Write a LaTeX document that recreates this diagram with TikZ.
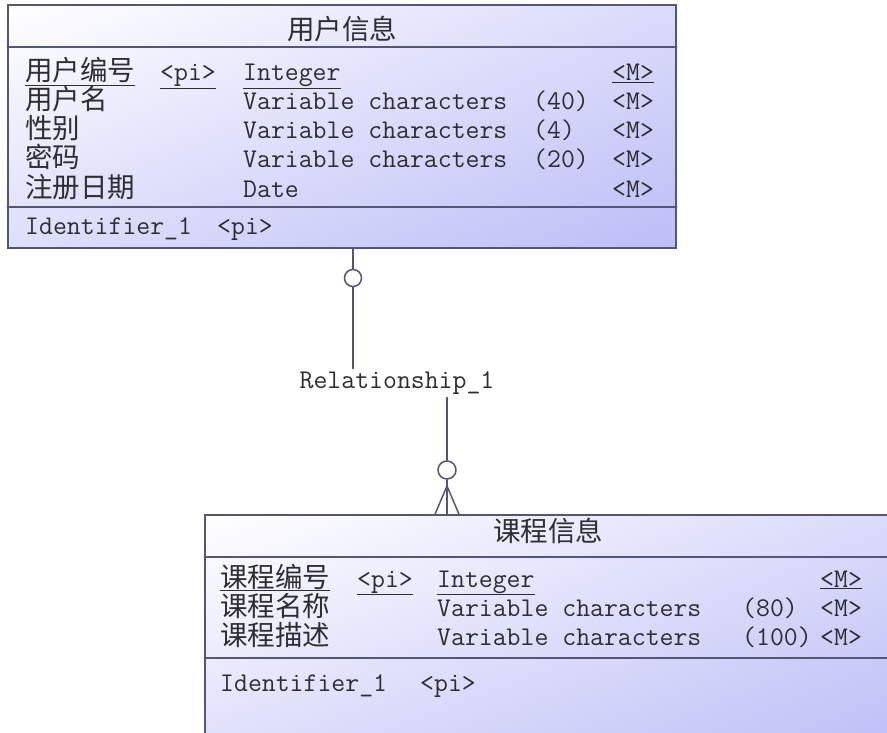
\documentclass[tikz,border=0pt]{standalone}
\usepackage{fontspec}
\newfontfamily\cjk{Noto Sans CJK SC}
\usetikzlibrary{calc,positioning,shadings}

\definecolor{erline}{RGB}{85,85,120}
\definecolor{erfill}{RGB}{188,190,246}
\definecolor{ertext}{RGB}{45,45,50}

\begin{document}
\begin{tikzpicture}[x=1pt,y=-1pt,line cap=round]

      \clip (0,0) rectangle (887,733);
      \fill[white] (0,0) rectangle (887,733);

      \tikzstyle{myentity}=[draw=erline, line width=1.5pt, rectangle, inner sep=0pt,
        shade, upper left=white, upper right=erfill!55, lower left=erfill!50, lower right=erfill];
      \tikzstyle{myline}=[draw=erline, line width=1.5pt];
      \tikzstyle{mycircle}=[circle, draw=erline, line width=1.5pt, fill=white, inner sep=0pt, minimum size=17pt];
      \tikzstyle{mycjk}=[inner sep=0pt, anchor=base west, text=ertext, font=\cjk\fontsize{27.5}{27.5}\selectfont];
      \tikzstyle{mymono}=[inner sep=0pt, anchor=base west, text=ertext, font=\ttfamily\fontsize{27}{27}\selectfont];

      % entity boxes
      \node[myentity, minimum width=668pt, minimum height=243pt] (user) at (342,126.5) {};
      \node[myentity, minimum width=687pt, minimum height=245pt] (course) at (548.5,637.5) {};

      \coordinate (UA) at (0,47);
      \coordinate (UB) at (0,207);
      \coordinate (CA) at (0,557);
      \coordinate (CB) at (0,658);
      \draw[myline] (user.west |- UA) -- (user.east |- UA);
      \draw[myline] (user.west |- UB) -- (user.east |- UB);
      \draw[myline] (course.west |- CA) -- (course.east |- CA);
      \draw[myline] (course.west |- CB) -- (course.east |- CB);

      % user
      \node[mycjk, anchor=base] (usertitle) at (342,40) {用户信息};
      \node[mycjk] (uname1) at (25,81) {\underline{用户编号}};
      \node[mycjk] (uname2) at (25,110) {用户名};
      \node[mycjk] (uname3) at (25,139) {性别};
      \node[mycjk] (uname4) at (25,168) {密码};
      \node[mycjk] (uname5) at (25,197) {注册日期};
      \node[mymono] (upi) at (160,81) {\underline{<pi>}};
      \node[mymono] (utype1) at (243,81) {\underline{Integer}};
      \node[mymono] (utype2) at (243,110) {Variable characters};
      \node[mymono] (utype3) at (243,139) {Variable characters};
      \node[mymono] (utype4) at (243,168) {Variable characters};
      \node[mymono] (utype5) at (243,197) {Date};
      \node[mymono] (ulen2) at (533,110) {(40)};
      \node[mymono] (ulen3) at (533,139) {(4)};
      \node[mymono] (ulen4) at (533,168) {(20)};
      \node[mymono] (um1) at (612,81) {\underline{<M>}};
      \node[mymono] (um2) at (612,110) {<M>};
      \node[mymono] (um3) at (612,139) {<M>};
      \node[mymono] (um4) at (612,168) {<M>};
      \node[mymono] (um5) at (612,197) {<M>};
      \node[mymono] (uid) at (25,235) {Identifier\_1};
      \node[mymono] (uidpi) at (217,235) {<pi>};

      % course
      \node[mycjk, anchor=base] (coursetitle) at (548,541) {课程信息};
      \node[mycjk] (cname1) at (220,587) {\underline{课程编号}};
      \node[mycjk] (cname2) at (220,616) {课程名称};
      \node[mycjk] (cname3) at (220,645) {课程描述};
      \node[mymono] (cpi) at (357,587) {\underline{<pi>}};
      \node[mymono] (ctype1) at (437,587) {\underline{Integer}};
      \node[mymono] (ctype2) at (437,616) {Variable characters};
      \node[mymono] (ctype3) at (437,645) {Variable characters};
      \node[mymono] (clen2) at (742,616) {(80)};
      \node[mymono] (clen3) at (742,645) {(100)};
      \node[mymono] (cm1) at (820,587) {\underline{<M>}};
      \node[mymono] (cm2) at (820,616) {<M>};
      \node[mymono] (cm3) at (820,645) {<M>};
      \node[mymono] (cid) at (220,691) {Identifier\_1};
      \node[mymono] (cidpi) at (420,691) {<pi>};

      % relationship
      \node[mymono, anchor=center, inner sep=3pt] (rel) at (397,383) {Relationship\_1};
      \node[mycircle] (c1) at (353,278) {};
      \node[mycircle, minimum size=18pt] (c2) at (447,470) {};
      \draw[myline] (c1 |- user.south) -- (c1);
      \draw[myline] (c1) -- (c1 |- rel.north);
      \draw[myline] (c2 |- rel.south) -- (c2);

      \coordinate (cf) at (447,486);
      \draw[myline] (c2) -- (c2 |- course.north);
      \draw[myline] (cf) -- ($(cf |- course.north)+(-12,0)$);
      \draw[myline] (cf) -- ($(cf |- course.north)+(12,0)$);
    \end{tikzpicture}
\end{document}
